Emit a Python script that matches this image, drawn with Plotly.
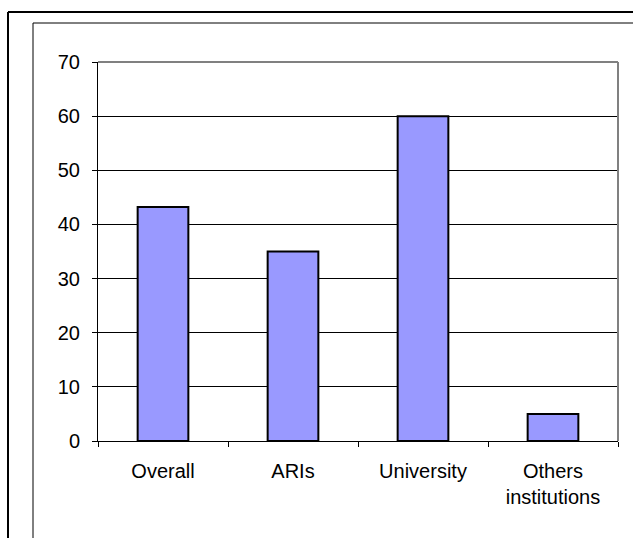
import plotly.graph_objects as go

categories = ["Overall", "ARIs", "University", "Others<br>institutions"]
values = [43.2, 35, 60, 5]

W, H = 633, 538
L, R, T, B = 98, 15, 62, 97
pw, ph = W - L - R, H - T - B

def px(x):
    return (x - L) / pw

def py(y):
    return (H - B - y) / ph

fig = go.Figure(go.Bar(
    x=categories, y=values,
    marker=dict(color="#9999FF", line=dict(color="black", width=2)),
    width=0.39,
))

shapes = [
    # outer frame
    dict(type="line", xref="paper", yref="paper", x0=px(8), x1=px(8), y0=py(560), y1=py(12), line=dict(color="black", width=2)),
    dict(type="line", xref="paper", yref="paper", x0=px(8), x1=px(660), y0=py(12), y1=py(12), line=dict(color="black", width=2)),
    # inner frame
    dict(type="line", xref="paper", yref="paper", x0=px(33), x1=px(33), y0=py(560), y1=py(23), line=dict(color="black", width=1)),
    dict(type="line", xref="paper", yref="paper", x0=px(33), x1=px(660), y0=py(23), y1=py(23), line=dict(color="black", width=1)),
    # plot area top/right border
    dict(type="line", xref="paper", yref="paper", x0=0, x1=1, y0=1, y1=1, line=dict(color="#808080", width=2)),
    dict(type="line", xref="paper", yref="paper", x0=1, x1=1, y0=0, y1=1, line=dict(color="#808080", width=2)),
]

fig.update_layout(
    width=W, height=H,
    margin=dict(l=L, r=R, t=T, b=B),
    paper_bgcolor="white", plot_bgcolor="white",
    font=dict(family="Liberation Sans, Arial, sans-serif", size=20, color="black"),
    showlegend=False,
    shapes=shapes,
    xaxis=dict(
        showline=True, linecolor="black", linewidth=1,
        ticks="outside", tickson="boundaries", ticklen=5, tickcolor="black",
        showgrid=False, ticklabelstandoff=12,
    ),
    yaxis=dict(
        range=[0, 70], dtick=10, tick0=0,
        showline=True, linecolor="black", linewidth=1,
        ticks="outside", ticklen=5, tickcolor="black",
        showgrid=True, gridcolor="black", gridwidth=1,
        zeroline=False, ticklabelstandoff=8,
    ),
)

fig.write_html("out.html")
